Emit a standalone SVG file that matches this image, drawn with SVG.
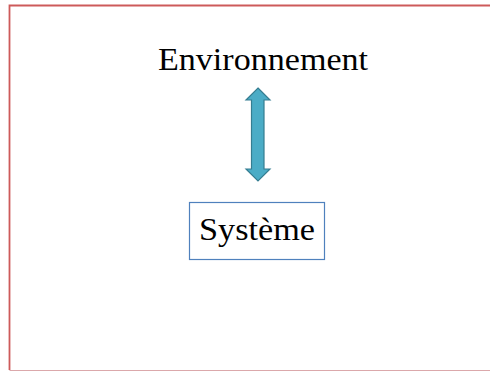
<svg xmlns="http://www.w3.org/2000/svg" width="490" height="372" viewBox="0 0 490 372">
<style>
text{font-family:"Liberation Serif","Times New Roman",serif;fill:#000;}
</style>
<rect width="490" height="372" fill="#fff"/>
<g id="frame" fill="none">
<path d="M9.5,370 V5.5 H490" stroke="#cd5a5a" stroke-width="1.8"/>
<path d="M9.5,370.5 H490" stroke="#dba8ab" stroke-width="1"/>
</g>
<g id="environnement">
<text x="263" y="70" font-size="32" text-anchor="middle" textLength="210" lengthAdjust="spacingAndGlyphs">Environnement</text>
</g>
<g id="systeme">
<rect x="189.5" y="202.5" width="135" height="57" fill="#fff" stroke="#4f81bd" stroke-width="1.2"/>
<text x="257" y="240" font-size="32" text-anchor="middle" textLength="116" lengthAdjust="spacingAndGlyphs">Système</text>
</g>
<g id="connectors">
<path d="M258,88 L270,100 L264,100 L264,169 L270,169 L258,181 L246,169 L251.5,169 L251.5,100 L246,100 Z" fill="#4bacc6" stroke="#357d91" stroke-width="1.2" stroke-linejoin="miter"/>
</g>
</svg>
